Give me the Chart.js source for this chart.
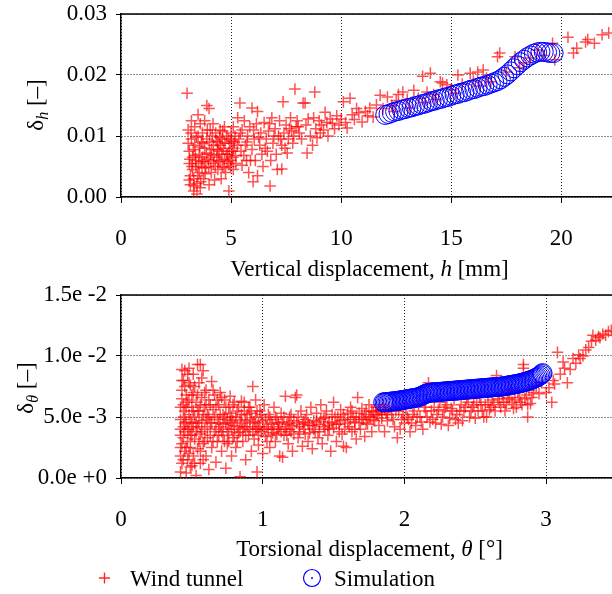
<!DOCTYPE html>
<html>
<head>
<meta charset="utf-8">
<script src="https://cdn.jsdelivr.net/npm/chart.js@4.4.1/dist/chart.umd.min.js"></script>
<style>
html,body{margin:0;padding:0;background:#fff;}
#wrap{position:relative;width:612px;height:594px;overflow:hidden;}
#topChart{position:absolute;left:0;top:0;}
#bottomChart{position:absolute;left:0;top:281px;}
</style>
</head>
<body>
<div id="wrap">
<canvas id="topChart" width="612" height="285"></canvas>
<canvas id="bottomChart" width="612" height="313"></canvas>
</div>
<script>
// vertical: displacement h [mm] vs damping delta_h
const windTunnelH = [
  [3.0,0.0170],[3.05,0.0110],[3.1,0.0075],[3.1,0.0055],[3.15,0.0035],[3.15,0.0020],[3.2,0.0125],[3.2,0.0095],
  [3.25,0.0065],[3.25,0.0045],[3.3,0.0030],[3.3,0.0010],[3.35,0.0115],[3.35,0.0085],[3.4,0.0060],[3.4,0.0050],
  [3.45,0.0022],[3.45,0.0005],[3.5,0.0135],[3.5,0.0100],[3.55,0.0070],[3.55,0.0040],[3.6,0.0015],[3.6,0.0120],
  [3.65,0.0090],[3.65,0.0058],[3.7,0.0105],[3.7,0.0065],[3.75,0.0030],[3.8,0.0125],[3.8,0.0080],[3.85,0.0048],
  [3.9,0.0150],[3.9,0.0095],[3.95,0.0062],[4.0,0.0145],[4.0,0.0020],[4.05,0.0110],[4.05,0.0070],[4.1,0.0040],
  [4.15,0.0100],[4.2,0.0085],[4.2,0.0055],[4.25,0.0028],[4.3,0.0105],[4.35,0.0065],[4.4,0.0090],[4.4,0.0045],
  [4.45,0.0075],[4.5,0.0110],[4.5,0.0060],[4.55,0.0030],[4.6,0.0095],[4.6,0.0050],[4.65,0.0080],[4.7,0.0115],
  [4.7,0.0062],[4.75,0.0040],[4.8,0.0100],[4.85,0.0070],[4.9,0.0055],[4.9,0.0010],[4.95,0.0088],[5.0,0.0105],
  [5.0,0.0060],[5.05,0.0075],[5.1,0.0115],[5.1,0.0045],[5.15,0.0090],[5.2,0.0068],[5.3,0.0130],[5.35,0.0095],
  [3.05,0.0088],[3.1,0.0028],[3.12,0.0062],[3.18,0.0105],[3.22,0.0050],[3.28,0.0078],[3.32,0.0018],[3.38,0.0068],
  [3.42,0.0098],[3.48,0.0035],[3.52,0.0055],[3.58,0.0082],[3.62,0.0025],[3.68,0.0048],[3.72,0.0088],[3.78,0.0058],
  [3.82,0.0038],[3.88,0.0072],[3.92,0.0110],[3.98,0.0050],[4.02,0.0090],[4.08,0.0060],[4.12,0.0078],[4.18,0.0120],
  [4.22,0.0068],[4.28,0.0050],[4.32,0.0092],[4.38,0.0078],[4.42,0.0058],[4.48,0.0098],[4.52,0.0085],[4.58,0.0070],
  [4.62,0.0108],[4.68,0.0048],[4.72,0.0088],[4.78,0.0070],[4.82,0.0058],[4.88,0.0095],[4.92,0.0075],[4.98,0.0050],
  [5.02,0.0092],[5.08,0.0065],[5.12,0.0080],[5.18,0.0100],[5.22,0.0055],[5.28,0.0085],[5.42,0.0105],[5.58,0.0068],
  [5.72,0.0090],[5.88,0.0060],[6.02,0.0110],[6.25,0.0098],[6.55,0.0080],[6.75,0.0120],[6.95,0.0100],[7.25,0.0095],
  [7.45,0.0080],[7.65,0.0112],[7.85,0.0100],[8.05,0.0115],
  [5.4,0.0154],[5.45,0.0075],[5.5,0.0110],[5.5,0.0052],[5.6,0.0125],[5.65,0.0085],[5.7,0.0060],[5.75,0.0100],
  [5.8,0.0040],[5.85,0.0115],[5.95,0.0146],[5.95,0.0078],[6.0,0.0025],[6.05,0.0095],[6.1,0.0060],[6.15,0.0120],
  [6.2,0.0140],[6.2,0.0035],[6.3,0.0085],[6.35,0.0105],[6.4,0.0070],[6.45,0.0050],[6.5,0.0122],[6.6,0.0095],
  [6.65,0.0075],[6.7,0.0108],[6.77,0.0018],[6.8,0.0060],[6.85,0.0130],[6.9,0.0088],[7.0,0.0112],[7.05,0.0070],
  [7.1,0.0045],[7.15,0.0100],[7.2,0.0125],[7.3,0.0046],[7.3,0.0085],[7.36,0.0156],[7.4,0.0105],[7.5,0.0118],
  [7.55,0.0072],[7.6,0.0095],[7.7,0.0130],[7.75,0.0108],[7.8,0.0088],[7.9,0.0177],[7.95,0.0115],[8.0,0.0125],
  [8.1,0.0105],[8.2,0.0095],[8.27,0.0154],[8.36,0.0154],[8.4,0.0118],[8.45,0.0072],[8.5,0.0128],[8.6,0.0100],
  [8.7,0.0085],[8.75,0.0130],[8.8,0.0172],[8.85,0.0112],[8.9,0.0097],[9.0,0.0125],[9.05,0.0105],[9.1,0.0118],
  [9.2,0.0110],[9.27,0.0139],[9.35,0.0122],[9.4,0.0100],[9.5,0.0128],[9.6,0.0121],[9.7,0.0112],[9.8,0.0133],
  [9.9,0.0118],[10.0,0.0128],[10.1,0.0156],[10.2,0.0122],[10.27,0.0113],[10.4,0.0162],[10.5,0.0135],[10.6,0.0127],
  [10.7,0.0145],[10.8,0.0138],[10.95,0.0123],[11.1,0.0140],[11.2,0.0133],[11.3,0.0146],[11.45,0.0131],[11.6,0.0151],
  [11.77,0.0167],[11.9,0.0145],[12.1,0.0164],[12.3,0.0150],[12.4,0.0140],[12.5,0.0158],[12.6,0.0168],[12.8,0.0172],
  [13.0,0.0160],[13.1,0.0146],[13.3,0.0175],[13.5,0.0162],[13.7,0.0198],[13.8,0.0155],[13.9,0.0172],[14.05,0.0203],
  [14.2,0.0168],[14.3,0.0160],[14.5,0.0189],[14.6,0.0187],[14.8,0.0184],[15.0,0.0176],[15.2,0.0170],[15.3,0.0200],
  [15.5,0.0185],[15.86,0.0203],[16.0,0.0190],[16.2,0.0205],[16.3,0.0182],[16.45,0.0208],[16.6,0.0195],[16.8,0.0189],
  [17.1,0.0230],[17.2,0.0236],[17.5,0.0205],[17.9,0.0230],[18.1,0.0212],[18.3,0.0220],[18.6,0.0228],[18.9,0.0241],
  [19.2,0.0232],[19.6,0.0252],[19.7,0.0225],[20.3,0.0262],[20.55,0.0236],[20.7,0.0244],[21.1,0.0254],[21.2,0.0258],
  [21.5,0.0252],[21.85,0.0266],[22.15,0.0269]
];
const simulationH = [
  [12.0,0.01345],[12.15,0.0136],[12.3,0.0138],[12.45,0.0140],[12.6,0.0141],[12.75,0.0143],[12.9,0.0144],[13.05,0.0146],
  [13.2,0.0147],[13.35,0.0149],[13.5,0.0150],[13.65,0.0152],[13.8,0.0153],[13.95,0.0155],[14.1,0.0157],[14.25,0.0158],
  [14.4,0.0160],[14.55,0.0161],[14.7,0.0163],[14.85,0.0164],[15.0,0.0166],[15.15,0.0168],[15.3,0.0169],[15.45,0.0171],
  [15.6,0.0172],[15.75,0.0174],[15.9,0.0176],[16.05,0.0177],[16.2,0.0179],[16.35,0.0181],[16.5,0.0182],[16.65,0.0184],
  [16.8,0.0186],[16.95,0.0188],[17.1,0.0190],[17.25,0.0193],[17.4,0.0197],[17.55,0.0201],[17.7,0.0206],[17.85,0.0211],
  [18.0,0.0216],[18.15,0.0221],[18.3,0.0225],[18.45,0.0229],[18.6,0.0232],[18.75,0.0235],[18.9,0.0237],[19.05,0.0238],
  [19.2,0.0238],[19.35,0.0237],[19.5,0.0236],[19.65,0.0236]
];
const yTickLabelsH = ['0.00','0.01','0.02','0.03'];

// torsional: rotation theta [deg] vs damping delta_theta
const windTunnelTheta = [
  [0.42,0.0005],[0.42,0.0018],[0.42,0.0035],[0.42,0.0048],[0.43,0.0089],[0.43,0.0072],[0.43,0.0028],[0.43,0.0012],
  [0.44,0.0060],[0.44,0.0042],[0.44,0.0080],[0.45,0.0022],[0.45,0.0055],[0.45,0.0038],[0.46,0.0068],[0.46,0.0004],
  [0.46,0.0046],[0.47,0.0085],[0.47,0.0030],[0.47,0.0015],[0.48,0.0052],[0.48,0.0064],[0.48,0.0040],[0.49,0.0076],
  [0.49,0.0025],[0.49,0.0009],[0.50,0.0058],[0.50,0.0045],[0.50,0.0035],[0.51,0.0085],[0.51,0.0070],[0.51,0.0018],
  [0.52,0.0050],[0.52,0.0032],[0.53,0.0062],[0.53,0.0002],[0.54,0.0093],[0.54,0.0042],[0.54,0.0024],[0.55,0.0078],
  [0.55,0.0055],[0.56,0.0093],[0.56,0.0012],[0.56,0.0036],[0.57,0.0066],[0.57,0.0047],[0.58,0.0088],[0.58,0.0028],
  [0.59,0.0058],[0.59,0.0040],[0.60,0.0072],[0.60,0.0018],[0.61,0.0052],[0.61,0.0033],[0.62,0.0064],[0.62,0.0007],
  [0.42,0.0025],[0.42,0.0040],[0.42,0.0058],[0.43,0.0065],[0.43,0.0080],[0.44,0.0015],[0.44,0.0033],[0.44,0.0050],
  [0.45,0.0045],[0.45,0.0075],[0.45,0.0088],[0.46,0.0025],[0.46,0.0058],[0.47,0.0040],[0.47,0.0062],[0.48,0.0020],
  [0.48,0.0078],[0.48,0.0090],[0.49,0.0048],[0.49,0.0035],[0.50,0.0068],[0.50,0.0010],[0.51,0.0042],[0.51,0.0055],
  [0.52,0.0075],[0.52,0.0012],[0.53,0.0045],[0.53,0.0038],[0.54,0.0068],[0.54,0.0055],[0.55,0.0030],[0.55,0.0045],
  [0.56,0.0060],[0.56,0.0022],[0.57,0.0038],[0.57,0.0082],[0.58,0.0052],[0.58,0.0015],[0.59,0.0070],[0.59,0.0030],
  [0.60,0.0048],[0.60,0.0060],
  [0.63,0.0045],[0.64,0.0079],[0.64,0.0025],[0.65,0.0056],[0.66,0.0038],[0.66,0.0068],[0.67,0.0013],[0.68,0.0048],
  [0.68,0.0030],[0.69,0.0060],[0.70,0.0042],[0.70,0.0070],[0.71,0.0022],[0.72,0.0052],[0.72,0.0035],[0.73,0.0064],
  [0.74,0.0008],[0.74,0.0045],[0.75,0.0028],[0.76,0.0058],[0.76,0.0040],[0.77,0.0067],[0.78,0.0018],[0.78,0.0050],
  [0.79,0.0033],[0.80,0.0062],[0.80,0.0043],[0.81,0.0025],[0.82,0.0055],[0.83,0.0037],[0.84,0.0001],[0.84,0.0048],
  [0.85,0.0063],[0.86,0.0030],[0.87,0.0062],[0.87,0.0042],[0.88,0.0015],[0.89,0.0052],[0.90,0.0035],[0.91,0.0058],
  [0.92,0.0022],[0.93,0.0045],[0.93,0.0075],[0.94,0.0032],[0.95,0.0064],[0.95,0.0050],[0.96,0.0005],[0.96,0.0040],
  [0.97,0.0027],[0.98,0.0055],[0.99,0.0038],[1.00,0.0047],[1.00,0.0020],
  [0.61,0.0042],[0.62,0.0050],[0.63,0.0035],[0.63,0.0060],[0.64,0.0045],[0.65,0.0030],[0.65,0.0072],[0.66,0.0050],
  [0.67,0.0040],[0.67,0.0058],[0.68,0.0064],[0.69,0.0035],[0.69,0.0045],[0.70,0.0052],[0.71,0.0038],[0.71,0.0066],
  [0.72,0.0044],[0.73,0.0030],[0.73,0.0050],[0.74,0.0058],[0.75,0.0038],[0.75,0.0048],[0.76,0.0030],[0.77,0.0045],
  [0.77,0.0053],[0.78,0.0040],[0.79,0.0060],[0.79,0.0047],[0.80,0.0035],[0.81,0.0050],[0.82,0.0042],[0.82,0.0030],
  [0.83,0.0058],[0.84,0.0038],[0.85,0.0045],[0.85,0.0052],[0.86,0.0040],[0.87,0.0055],[0.88,0.0035],[0.88,0.0047],
  [0.89,0.0042],[0.90,0.0058],[0.91,0.0040],[0.91,0.0048],[0.92,0.0053],[0.93,0.0038],[0.94,0.0046],[0.95,0.0040],
  [0.96,0.0055],[0.97,0.0045],[0.97,0.0035],[0.98,0.0042],[0.99,0.0052],
  [1.01,0.0060],[1.02,0.0034],[1.03,0.0042],
  [1.04,0.0052],[1.05,0.0025],[1.06,0.0045],[1.07,0.0037],[1.08,0.0058],[1.09,0.0030],[1.10,0.0048],[1.11,0.0040],
  [1.12,0.0018],[1.13,0.0053],[1.14,0.0017],[1.15,0.0035],[1.16,0.0067],[1.17,0.0044],[1.18,0.0028],[1.19,0.0050],
  [1.20,0.0038],[1.21,0.0022],[1.22,0.0047],[1.23,0.0066],[1.24,0.0068],[1.25,0.0033],[1.26,0.0042],[1.27,0.0055],
  [1.28,0.0026],[1.29,0.0046],[1.30,0.0036],[1.31,0.0052],[1.32,0.0030],[1.33,0.0043],[1.34,0.0058],[1.35,0.0024],
  [1.36,0.0047],[1.37,0.0038],[1.38,0.0053],[1.39,0.0033],[1.40,0.0044],[1.41,0.0060],[1.42,0.0028],[1.43,0.0049],
  [1.44,0.0040],[1.45,0.0055],[1.46,0.0035],[1.47,0.0046],[1.48,0.0022],[1.49,0.0052],[1.50,0.0062],[1.50,0.0041],
  [1.52,0.0030],[1.53,0.0050],[1.54,0.0044],[1.55,0.0056],[1.56,0.0036],[1.57,0.0026],[1.58,0.0048],[1.59,0.0025],
  [1.60,0.0053],[1.61,0.0042],[1.62,0.0058],[1.63,0.0038],[1.64,0.0050],[1.65,0.0046],[1.66,0.0032],[1.67,0.0066],
  [1.68,0.0053],[1.69,0.0040],[1.70,0.0057],[1.71,0.0048],[1.72,0.0034],[1.73,0.0055],[1.74,0.0044],[1.75,0.0060],
  [1.76,0.0050],[1.77,0.0038],[1.78,0.0054],[1.79,0.0047],[1.80,0.0058],[1.81,0.0052],[1.82,0.0043],[1.83,0.0056],
  [1.84,0.0049],[1.85,0.0060],[1.86,0.0038],[1.87,0.0054],[1.88,0.0047],[1.89,0.0058],
  [1.01,0.0040],[1.02,0.0048],[1.03,0.0030],[1.04,0.0040],[1.05,0.0050],[1.06,0.0035],[1.07,0.0044],[1.08,0.0040],
  [1.09,0.0050],[1.10,0.0036],[1.11,0.0045],[1.12,0.0042],[1.13,0.0038],[1.14,0.0046],[1.15,0.0050],[1.16,0.0040],
  [1.17,0.0035],[1.18,0.0045],[1.19,0.0040],[1.20,0.0052],[1.21,0.0043],[1.22,0.0036],[1.24,0.0045],[1.25,0.0050],
  [1.26,0.0038],[1.28,0.0044],[1.29,0.0040],[1.30,0.0048],[1.32,0.0045],[1.33,0.0037],[1.35,0.0043],[1.36,0.0040],
  [1.38,0.0046],[1.40,0.0038],[1.41,0.0048],[1.43,0.0042],[1.44,0.0050],[1.46,0.0043],[1.47,0.0040],[1.49,0.0045],
  [1.51,0.0050],[1.52,0.0044],[1.54,0.0038],[1.55,0.0047],[1.57,0.0052],[1.58,0.0040],[1.60,0.0045],[1.62,0.0048],
  [1.63,0.0055],[1.65,0.0040],[1.66,0.0050],[1.68,0.0045],[1.70,0.0048],[1.72,0.0052],[1.73,0.0045],[1.75,0.0050],
  [1.77,0.0055],[1.78,0.0048],[1.80,0.0052],[1.82,0.0055],[1.84,0.0052],[1.86,0.0056],[1.88,0.0052],
  [1.91,0.0052],[1.93,0.0042],
  [1.95,0.0033],[1.96,0.0055],[1.98,0.0048],[2.00,0.0045],[2.01,0.0057],[2.03,0.0048],[2.04,0.0038],[2.06,0.0052],
  [2.08,0.0043],[2.10,0.0060],[2.11,0.0050],[2.13,0.0040],[2.15,0.0055],[2.17,0.0078],[2.18,0.0046],[2.20,0.0048],
  [2.21,0.0058],[2.23,0.0052],[2.25,0.0062],[2.26,0.0044],[2.28,0.0055],[2.30,0.0060],[2.32,0.0049],[2.33,0.0057],
  [2.35,0.0064],[2.37,0.0052],[2.38,0.0045],[2.40,0.0060],[2.42,0.0055],[2.44,0.0065],[2.46,0.0050],[2.48,0.0058],
  [2.50,0.0049],[2.51,0.0062],[2.53,0.0066],[2.55,0.0055],[2.57,0.0060],[2.58,0.0050],[2.60,0.0056],[2.62,0.0064],
  [2.63,0.0060],[2.65,0.0084],[2.67,0.0062],[2.69,0.0068],[2.71,0.0055],[2.73,0.0066],[2.75,0.0072],[2.77,0.0057],
  [2.78,0.0064],[2.80,0.0070],[2.82,0.0062],[2.84,0.0093],[2.84,0.0090],[2.86,0.0068],[2.87,0.0050],[2.87,0.0060],
  [2.88,0.0072],[2.90,0.0066],
  [1.92,0.0048],[1.94,0.0055],[1.97,0.0040],[1.99,0.0052],[2.02,0.0050],[2.05,0.0045],[2.07,0.0055],[2.09,0.0050],
  [2.12,0.0046],[2.14,0.0058],[2.16,0.0050],[2.19,0.0055],[2.22,0.0045],[2.24,0.0056],[2.27,0.0050],[2.29,0.0058],
  [2.31,0.0043],[2.34,0.0055],[2.36,0.0048],[2.39,0.0055],[2.41,0.0047],[2.43,0.0058],[2.45,0.0062],[2.47,0.0055],
  [2.49,0.0060],[2.52,0.0055],[2.54,0.0060],[2.56,0.0050],[2.59,0.0062],[2.61,0.0058],[2.64,0.0055],[2.66,0.0065],
  [2.68,0.0058],[2.70,0.0062],[2.72,0.0060],[2.74,0.0065],[2.76,0.0062],[2.79,0.0058],[2.81,0.0066],[2.83,0.0060],
  [2.85,0.0065],[2.89,0.0061],[2.91,0.0070],
  [2.93,0.0075],[2.95,0.0069],[2.97,0.0078],[3.00,0.0070],[3.02,0.0074],[3.04,0.0062],
  [3.05,0.0080],[3.06,0.0077],[3.08,0.0103],[3.10,0.0085],[3.12,0.0095],[3.13,0.0090],[3.15,0.0078],[3.17,0.0089],
  [3.19,0.0098],[3.21,0.0094],[3.23,0.0101],[3.24,0.0098],[3.26,0.0100],[3.28,0.0105],[3.30,0.0107],[3.32,0.0112],
  [3.33,0.0117],[3.35,0.0113],[3.37,0.0116],[3.38,0.0115],[3.40,0.0118],[3.42,0.0117],[3.44,0.0120],[3.46,0.0121]
];
const simulationTheta = [
  [1.85,0.00620],[1.86,0.00621],[1.87,0.00622],[1.88,0.00623],[1.89,0.00624],[1.90,0.00626],[1.91,0.00627],[1.92,0.00628],
  [1.93,0.00629],[1.94,0.00630],[1.95,0.00632],[1.96,0.00634],[1.97,0.00636],[1.98,0.00638],[1.99,0.00640],[2.00,0.00642],
  [2.01,0.00644],[2.02,0.00646],[2.03,0.00648],[2.04,0.00650],[2.05,0.00652],[2.06,0.00654],[2.07,0.00656],[2.08,0.00658],
  [2.09,0.00660],[2.10,0.00663],[2.11,0.00667],[2.12,0.00672],[2.13,0.00678],[2.14,0.00684],[2.15,0.00690],[2.16,0.00694],
  [2.17,0.00697],[2.18,0.00699],[2.19,0.00700],[2.20,0.00701],[2.21,0.00702],[2.22,0.00703],[2.23,0.00704],[2.24,0.00705],
  [2.25,0.00706],[2.26,0.00707],[2.27,0.00708],[2.28,0.00709],[2.29,0.00710],[2.30,0.00711],[2.31,0.00712],[2.32,0.00713],
  [2.33,0.00714],[2.34,0.00715],[2.35,0.00716],[2.36,0.00717],[2.37,0.00718],[2.38,0.00719],[2.39,0.00720],[2.40,0.00721],
  [2.41,0.00722],[2.42,0.00723],[2.43,0.00724],[2.44,0.00725],[2.45,0.00726],[2.46,0.00727],[2.47,0.00728],[2.48,0.00729],
  [2.49,0.00730],[2.50,0.00731],[2.51,0.00732],[2.52,0.00733],[2.53,0.00734],[2.54,0.00735],[2.55,0.00736],[2.56,0.00737],
  [2.57,0.00738],[2.58,0.00739],[2.59,0.00740],[2.60,0.00741],[2.61,0.00742],[2.62,0.00743],[2.63,0.00744],[2.64,0.00745],
  [2.65,0.00746],[2.66,0.00747],[2.67,0.00748],[2.68,0.00749],[2.69,0.00750],[2.70,0.00752],[2.71,0.00754],[2.72,0.00756],
  [2.73,0.00758],[2.74,0.00760],[2.75,0.00762],[2.76,0.00764],[2.77,0.00766],[2.78,0.00768],[2.79,0.00770],[2.80,0.00772],
  [2.81,0.00775],[2.82,0.00778],[2.83,0.00781],[2.84,0.00784],[2.85,0.00787],[2.86,0.00790],[2.87,0.00794],[2.88,0.00798],
  [2.89,0.00802],[2.90,0.00806],[2.91,0.00811],[2.92,0.00816],[2.93,0.00822],[2.94,0.00828],[2.95,0.00835],[2.96,0.00843],
  [2.97,0.00852],[2.975,0.00860]
];
const yTickLabelsTheta = ['0.0e +0','5.0e -3','1.0e -2','1.5e -2'];

const serif = '"Liberation Serif", "Times New Roman", serif';
const tickFont = {family: serif, size: 23};
const red = 'rgba(255,0,0,0.68)';
const blue = '#0000ff';

function pts(arr) { return arr.map(p => ({x: p[0], y: p[1]})); }

// draw a run of text pieces [text, font, dy] centred on x
function drawRich(ctx, parts, x, y) {
  let w = 0;
  parts.forEach(p => { ctx.font = p[1]; w += ctx.measureText(p[0]).width; });
  let cx = x - w / 2;
  parts.forEach(p => {
    ctx.font = p[1];
    ctx.fillText(p[0], cx, y + (p[2] || 0));
    cx += ctx.measureText(p[0]).width;
  });
}

const reg = '23px ' + serif;
const ita = 'italic 23px ' + serif;
const sub = 'italic 16px ' + serif;

function makeDecor(xTitle, yTitle, yTitleX, yTitleY, xTitleY, legendY) {
  return {
    id: 'decor',
    afterDraw(chart) {
      const ctx = chart.ctx, a = chart.chartArea;
      ctx.save();
      // top frame line
      ctx.strokeStyle = '#000';
      ctx.lineWidth = 1.5;
      ctx.beginPath();
      ctx.moveTo(a.left, a.top);
      ctx.lineTo(a.right, a.top);
      ctx.stroke();
      ctx.fillStyle = '#000';
      ctx.textAlign = 'left';
      ctx.textBaseline = 'alphabetic';
      drawRich(ctx, xTitle, (a.left + a.right) / 2 + 3, xTitleY);
      ctx.translate(yTitleX, yTitleY);
      ctx.rotate(-Math.PI / 2);
      drawRich(ctx, yTitle, 0, 8);
      ctx.restore();
      if (legendY) {
        ctx.save();
        ctx.strokeStyle = 'rgba(255,0,0,0.85)';
        ctx.lineWidth = 1.4;
        ctx.beginPath();
        ctx.moveTo(99, legendY); ctx.lineTo(110, legendY);
        ctx.moveTo(104.5, legendY - 5.5); ctx.lineTo(104.5, legendY + 5.5);
        ctx.stroke();
        ctx.strokeStyle = blue;
        ctx.lineWidth = 1.2;
        ctx.beginPath();
        ctx.arc(312, legendY, 8.5, 0, Math.PI * 2);
        ctx.stroke();
        ctx.fillStyle = blue;
        ctx.beginPath();
        ctx.arc(312, legendY, 1, 0, Math.PI * 2);
        ctx.fill();
        ctx.fillStyle = '#000';
        ctx.font = reg;
        ctx.textBaseline = 'alphabetic';
        ctx.fillText('Wind tunnel', 130, legendY + 8);
        ctx.fillText('Simulation', 334, legendY + 8);
        ctx.restore();
      }
    }
  };
}

function axisX(max, step, h) {
  return {
    type: 'linear', min: 0, max: max,
    afterFit: s => { s.height = h; s.paddingLeft = 0; s.paddingRight = 0; },
    ticks: {stepSize: step, includeBounds: false, padding: 22, color: '#000', font: tickFont, maxRotation: 0},
    grid: {color: '#222', lineWidth: 1, tickLength: 6, tickColor: '#000', tickWidth: 1},
    border: {color: '#000', width: 1.5, dash: [1, 2]}
  };
}
function axisY(max, step, labels) {
  return {
    type: 'linear', min: 0, max: max,
    afterFit: s => { s.width = 121; s.paddingTop = 0; s.paddingBottom = 0; },
    ticks: {stepSize: step, includeBounds: false, padding: 9, color: '#000', font: tickFont,
      callback: (v, i) => labels[i]},
    grid: {color: '#222', lineWidth: 1, tickLength: 5, tickColor: '#000', tickWidth: 1},
    border: {color: '#000', width: 1.5, dash: [1, 2]}
  };
}

function datasets(wind, sim) {
  return [
    {label: 'Wind tunnel', data: pts(wind), order: 1, pointStyle: 'cross', pointRadius: 5.8,
      borderColor: red, backgroundColor: red, borderWidth: 1.5},
    {label: 'Simulation', data: pts(sim), order: 0, pointStyle: 'circle', pointRadius: 9.5,
      borderColor: blue, backgroundColor: 'rgba(0,0,0,0)', borderWidth: 1}
  ];
}

const common = {
  responsive: false, animation: false, devicePixelRatio: 1,
  plugins: {legend: {display: false}, tooltip: {enabled: false}}
};

new Chart(document.getElementById('topChart'), {
  type: 'scatter',
  data: {datasets: datasets(windTunnelH, simulationH)},
  options: Object.assign({}, common, {
    layout: {autoPadding: false, padding: {top: 14, left: 0, right: 0, bottom: 0}},
    scales: {x: axisX(22.3, 5, 88), y: axisY(0.03, 0.01, yTickLabelsH)}
  }),
  plugins: [makeDecor(
    [['Vertical displacement, ', reg], ['h', ita], [' [mm]', reg]],
    [['\u03b4', reg], ['h', sub, 5], [' [\u2013]', reg]],
    35, 105, 276, 0)]
});

new Chart(document.getElementById('bottomChart'), {
  type: 'scatter',
  data: {datasets: datasets(windTunnelTheta, simulationTheta)},
  options: Object.assign({}, common, {
    layout: {autoPadding: false, padding: {top: 14, left: 0, right: 0, bottom: 0}},
    scales: {x: axisX(3.465, 1, 116), y: axisY(0.015, 0.005, yTickLabelsTheta)}
  }),
  plugins: [makeDecor(
    [['Torsional displacement, ', reg], ['\u03b8', ita], [' [\u00b0]', reg]],
    [['\u03b4', reg], ['\u03b8', sub, 5], [' [\u2013]', reg]],
    25, 107, 275, 297)]
});
</script>
</body>
</html>
